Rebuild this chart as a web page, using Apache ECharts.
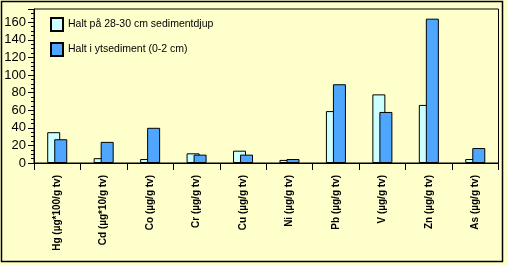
<!DOCTYPE html>
<html>
<head>
<meta charset="utf-8">
<script src="https://cdn.jsdelivr.net/npm/echarts@6/dist/echarts.min.js"></script>
<style>
html,body{margin:0;padding:0;background:#FFFFCC;}
#c{width:508px;height:265px;}
</style>
</head>
<body>
<div id="c"></div>
<script>
var categories = ['Hg (µg*100/g tv)','Cd (µg*10/g tv)','Co (µg/g tv)','Cr (µg/g tv)','Cu (µg/g tv)','Ni (µg/g tv)','Pb (µg/g tv)','V (µg/g tv)','Zn (µg/g tv)','As (µg/g tv)'];
var seriesNames = ['Halt på 28-30 cm sedimentdjup','Halt i ytsediment (0-2 cm)'];
var deepValues = [35, 5.5, 4.5, 11, 14, 3.5, 59, 78, 66, 4.5];
var surfaceValues = [27, 24, 40, 9.5, 9.5, 4.5, 89.5, 58, 164, 17];
var yTicks = [0, 20, 40, 60, 80, 100, 120, 140, 160];

var chart = echarts.init(document.getElementById('c'), null, {renderer:'canvas'});
var font = 'Arial, "Liberation Sans", sans-serif';
chart.setOption({
  backgroundColor: '#FFFFCC',
  animation: false,
  textStyle: {fontFamily: font},
  graphic: [{
    type: 'rect',
    shape: {x: 1.5, y: 1.5, width: 501, height: 260},
    style: {fill: 'none', stroke: '#000', lineWidth: 1.5},
    z: 100
  }],
  grid: {left: 34, right: 9.5, top: 9, bottom: 102, show: true, borderColor: '#000', borderWidth: 1, backgroundColor: 'transparent'},
  legend: {
    orient: 'vertical', left: 50, top: 17, padding: 0,
    itemWidth: 12, itemHeight: 13, itemGap: 10,
    icon: 'rect',
    textStyle: {fontSize: 10.5, color: '#000', fontFamily: font},
    data: seriesNames
  },
  xAxis: {
    type: 'category',
    data: categories,
    axisLine: {lineStyle: {color: '#000', width: 1}},
    axisTick: {show: true, length: 7, lineStyle: {color: '#000'}},
    axisLabel: {rotate: 90, fontSize: 10, fontWeight: 'bold', color: '#000', margin: 12, interval: 0}
  },
  yAxis: {
    type: 'value', min: 0, max: 175, interval: 20,
    splitLine: {show: false},
    axisLine: {show: true, lineStyle: {color: '#000'}},
    axisTick: {show: true, length: 6, lineStyle: {color: '#000'}},
    minorTick: {show: true, splitNumber: 4, length: 3, lineStyle: {color: '#000'}},
    minorSplitLine: {show: false},
    axisLabel: {fontSize: 13, color: '#000', margin: 8,
      formatter: function(v){ return yTicks.indexOf(v) >= 0 ? String(v) : ''; }}
  },
  series: [
    {name: seriesNames[0], type: 'bar', data: deepValues, barWidth: 13, barGap: '-46%',
     itemStyle: {color: '#CCFFFF', borderColor: '#000', borderWidth: 1}},
    {name: seriesNames[1], type: 'bar', data: surfaceValues, barWidth: 13, barGap: '-46%',
     itemStyle: {color: '#4FA6FF', borderColor: '#000', borderWidth: 1}}
  ]
});
</script>
</body>
</html>
